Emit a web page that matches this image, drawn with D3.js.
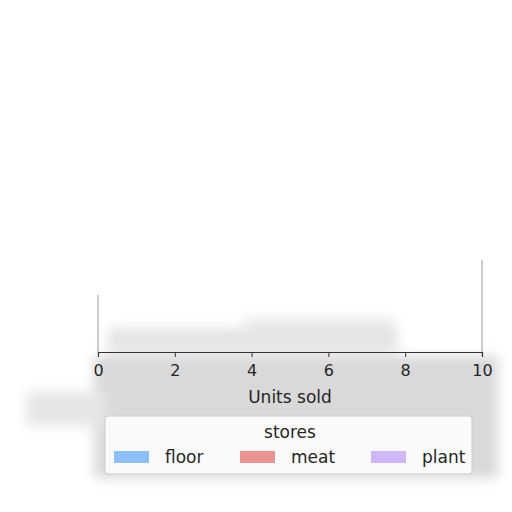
<!DOCTYPE html>
<html>
<head>
<meta charset="utf-8">
<script src="https://cdn.jsdelivr.net/npm/d3@7"></script>
<style>
  body { margin: 0; background: white; }
  svg text { font-family: "DejaVu Sans", sans-serif; fill: #262626; }
</style>
</head>
<body>
<svg id="chart" width="512" height="512"></svg>
<script>
// data
var stores = ['floor', 'meat', 'plant'];
var storeColors = ['#8dc0f8', '#ea9393', '#cfb6f7'];
var unitsSold = [0, 0, 0];
var xTicks = [0, 2, 4, 6, 8, 10];
var xLabel = 'Units sold';
var legendTitle = 'stores';

var svg = d3.select('#chart');
var plot = { l: 98, r: 482, t: 40, b: 352 };

var x = d3.scaleLinear().domain([0, 10]).range([plot.l, plot.r]);

// soft gray haze behind the axis and legend
var defs = svg.append('defs');
defs.append('filter').attr('id', 'haze')
    .attr('filterUnits', 'userSpaceOnUse')
    .attr('x', 0).attr('y', 0).attr('width', 512).attr('height', 512)
    .append('feGaussianBlur').attr('stdDeviation', 6);

var haze = svg.append('g').attr('filter', 'url(#haze)').style('fill', '#d9d9d9');
haze.append('rect').attr('x', 108).attr('y', 328).attr('width', 290).attr('height', 24).style('fill', '#e4e4e4');
haze.append('rect').attr('x', 245).attr('y', 318).attr('width', 150).attr('height', 16).style('fill', '#e8e8e8');
haze.append('rect').attr('x', 94).attr('y', 356).attr('width', 404).attr('height', 122);
haze.append('rect').attr('x', 26).attr('y', 392).attr('width', 80).attr('height', 34).style('fill', '#e6e6e6');

// faint spines
svg.append('line')
    .attr('x1', x(0)).attr('x2', x(0)).attr('y1', 295).attr('y2', plot.b)
    .style('stroke', '#bbbbbb').style('stroke-width', 1.5);
svg.append('line')
    .attr('x1', x(10)).attr('x2', x(10)).attr('y1', 260).attr('y2', plot.b)
    .style('stroke', '#bbbbbb').style('stroke-width', 1.5);

// bars (all zero)
svg.selectAll('.bar')
    .data(unitsSold)
    .enter()
    .append('rect')
    .attr('class', 'bar')
    .attr('x', x(0))
    .attr('y', function (d, i) { return 300 + i * 15; })
    .attr('width', function (d) { return x(d) - x(0); })
    .attr('height', 10)
    .style('fill', function (d, i) { return storeColors[i]; });

// x axis
var axisG = svg.append('g')
    .attr('transform', 'translate(0,' + plot.b + ')')
    .call(d3.axisBottom(x).tickValues(xTicks).tickSize(5).tickPadding(8).tickFormat(d3.format('d')));
axisG.select('.domain').style('stroke', '#333').style('stroke-width', 1.2);
axisG.selectAll('.tick line').style('stroke', '#333');
axisG.selectAll('.tick text')
    .style('font-size', '16px')
    .style('font-family', '"DejaVu Sans", sans-serif')
    .style('fill', '#262626');

svg.append('text')
    .attr('x', (plot.l + plot.r) / 2)
    .attr('y', 403)
    .style('text-anchor', 'middle')
    .style('font-size', '17px')
    .text(xLabel);

// legend
var legendG = svg.append('g').attr('transform', 'translate(105,416)');
legendG.append('rect')
    .attr('width', 367).attr('height', 58).attr('rx', 3)
    .style('fill', '#fafafa').style('stroke', '#cccccc');
legendG.append('text')
    .attr('x', 185).attr('y', 22)
    .style('text-anchor', 'middle')
    .style('font-size', '17px')
    .text(legendTitle);

var itemX = [9, 135, 266];
var item = legendG.selectAll('.legend-item')
    .data(stores)
    .enter()
    .append('g')
    .attr('class', 'legend-item')
    .attr('transform', function (d, i) { return 'translate(' + [itemX[i], 35] + ')'; });
item.append('rect')
    .attr('width', 35).attr('height', 12)
    .style('fill', function (d, i) { return storeColors[i]; });
item.append('text')
    .attr('x', 51).attr('y', 12)
    .style('font-size', '17px')
    .text(function (d) { return d; });
</script>
</body>
</html>
